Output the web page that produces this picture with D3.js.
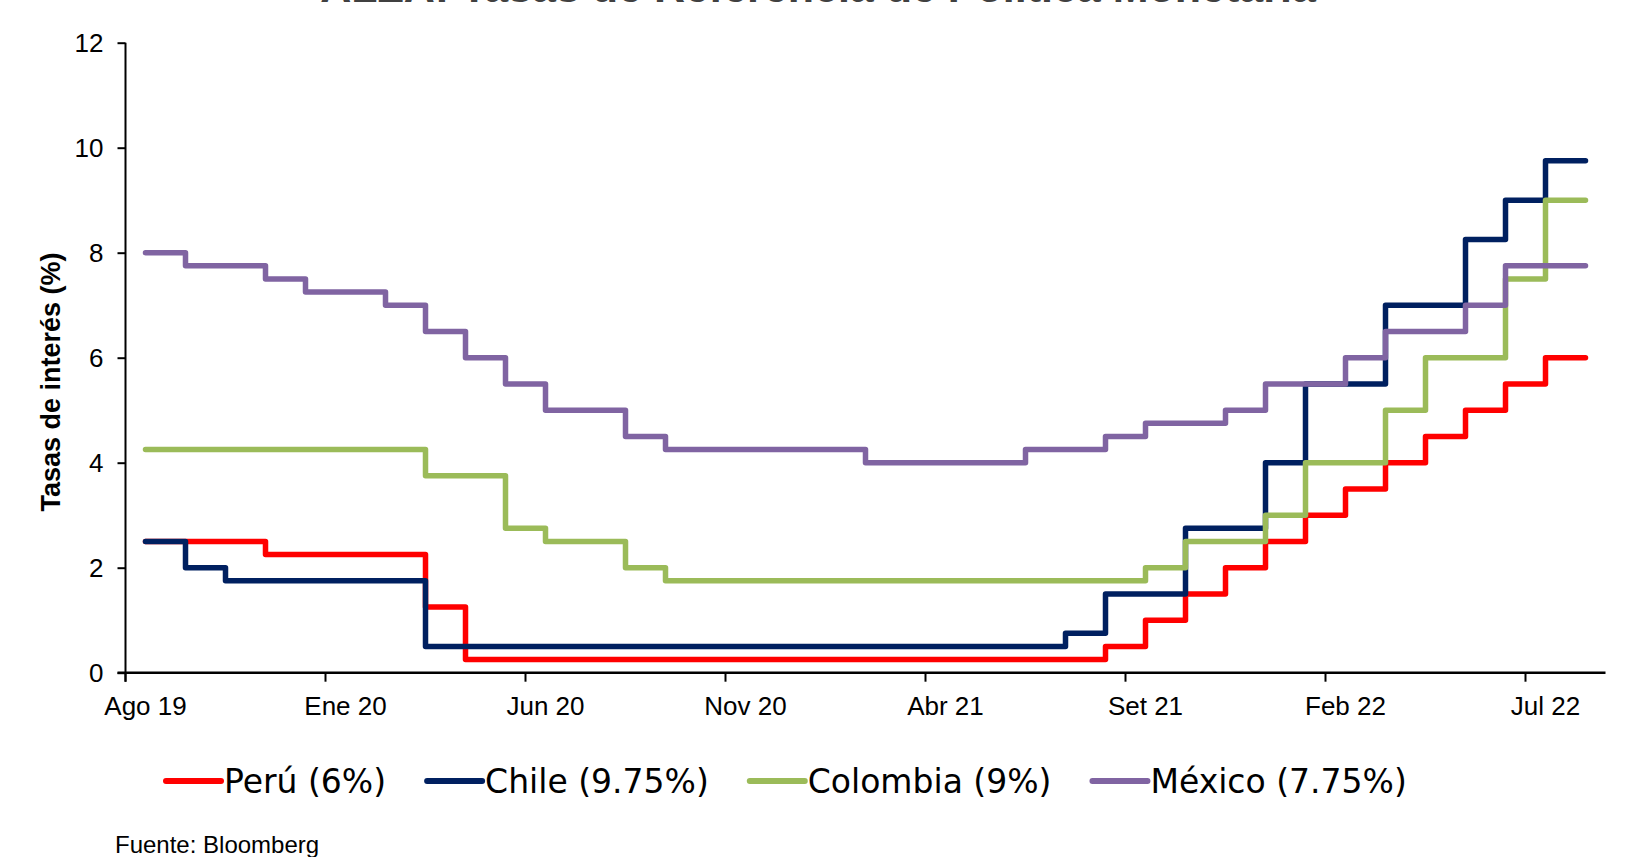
<!DOCTYPE html>
<html>
<head>
<meta charset="utf-8">
<script src="https://cdn.jsdelivr.net/npm/d3@7"></script>
<style>
  body { margin: 0; background: #fff; }
  svg { display: block; }
</style>
</head>
<body>
<div id="chart"></div>
<script>
// monthly end-of-month rates, Ago 19 .. Ago 22
const months = ["Ago 19", "Set 19", "Oct 19", "Nov 19", "Dic 19", "Ene 20", "Feb 20", "Mar 20", "Abr 20", "May 20",
  "Jun 20", "Jul 20", "Ago 20", "Set 20", "Oct 20", "Nov 20", "Dic 20", "Ene 21", "Feb 21", "Mar 21",
  "Abr 21", "May 21", "Jun 21", "Jul 21", "Ago 21", "Set 21", "Oct 21", "Nov 21", "Dic 21", "Ene 22",
  "Feb 22", "Mar 22", "Abr 22", "May 22", "Jun 22", "Jul 22", "Ago 22"]

const peru = [2.5, 2.5, 2.5, 2.25, 2.25, 2.25, 2.25, 1.25, 0.25, 0.25,
  0.25, 0.25, 0.25, 0.25, 0.25, 0.25, 0.25, 0.25, 0.25, 0.25,
  0.25, 0.25, 0.25, 0.25, 0.5, 1, 1.5, 2, 2.5, 3,
  3.5, 4, 4.5, 5, 5.5, 6, 6]

const chile = [2.5, 2, 1.75, 1.75, 1.75, 1.75, 1.75, 0.5, 0.5, 0.5,
  0.5, 0.5, 0.5, 0.5, 0.5, 0.5, 0.5, 0.5, 0.5, 0.5,
  0.5, 0.5, 0.5, 0.75, 1.5, 1.5, 2.75, 2.75, 4, 5.5,
  5.5, 7, 7, 8.25, 9, 9.75, 9.75]

const colombia = [4.25, 4.25, 4.25, 4.25, 4.25, 4.25, 4.25, 3.75, 3.75, 2.75,
  2.5, 2.5, 2, 1.75, 1.75, 1.75, 1.75, 1.75, 1.75, 1.75,
  1.75, 1.75, 1.75, 1.75, 1.75, 2, 2.5, 2.5, 3, 4,
  4, 5, 6, 6, 7.5, 9, 9]

const mexico = [8, 7.75, 7.75, 7.5, 7.25, 7.25, 7, 6.5, 6, 5.5,
  5, 5, 4.5, 4.25, 4.25, 4.25, 4.25, 4.25, 4, 4,
  4, 4, 4.25, 4.25, 4.5, 4.75, 4.75, 5, 5.5, 5.5,
  6, 6.5, 6.5, 7, 7.75, 7.75, 7.75]

const seriesNames = ["Perú (6%)", "Chile (9.75%)", "Colombia (9%)", "México (7.75%)"]
const seriesColors = ["#ff0000", "#002060", "#9bbb59", "#8064a2"]
const yTicks = [0, 2, 4, 6, 8, 10, 12]

const width = 1626, height = 857
const margin = { left: 125.5, top: 42.7, bottom: 672.7 }
const plotRight = margin.left + months.length * 40

const svg = d3.select("#chart").append("svg")
  .attr("width", width)
  .attr("height", height)
  .style("font-family", "'Liberation Sans', Arial, sans-serif")

const x = d3.scaleBand().domain(d3.range(months.length)).range([margin.left, plotRight])
const y = d3.scaleLinear().domain([0, 12]).range([margin.bottom, margin.top])

// title (mostly cropped off the top, as in the source image)
svg.append("text")
  .attr("x", 818).attr("y", 2)
  .attr("text-anchor", "middle")
  .style("font-weight", "bold")
  .style("font-size", "43px")
  .attr("fill", "#404040")
  .text("ALZA: Tasas de Referencia de Política Monetaria")

// y axis
const yAxis = svg.append("g")
  .attr("transform", `translate(${margin.left},0)`)
  .call(d3.axisLeft(y).tickValues(yTicks).tickSize(8).tickPadding(14))
yAxis.select(".domain").attr("stroke", "#000").attr("stroke-width", 2)
  .attr("d", `M0,${margin.top}V${margin.bottom + 9}`)
yAxis.selectAll(".tick line").attr("stroke", "#000").attr("stroke-width", 2)
yAxis.selectAll(".tick text").style("font-size", "26px").attr("fill", "#000")
  .attr("font-family", "'Liberation Sans', Arial, sans-serif")

// x axis: ticks every 5 months on band edges, labels on band centers
const xg = svg.append("g")
xg.append("line")
  .attr("x1", margin.left - 8).attr("x2", plotRight)
  .attr("y1", margin.bottom).attr("y2", margin.bottom)
  .attr("stroke", "#000").attr("stroke-width", 2.5)
const labelIdx = d3.range(0, months.length, 5)
xg.selectAll(".xt").data(labelIdx).join("line")
  .attr("x1", d => x(d)).attr("x2", d => x(d))
  .attr("y1", margin.bottom).attr("y2", margin.bottom + 9)
  .attr("stroke", "#000").attr("stroke-width", 2)
xg.selectAll(".xl").data(labelIdx).join("text")
  .attr("x", d => x(d) + x.bandwidth() / 2)
  .attr("y", 715)
  .attr("text-anchor", "middle")
  .style("font-size", "26px")
  .text(d => months[d])

// y axis title
svg.append("text")
  .attr("transform", "translate(60,382) rotate(-90)")
  .attr("text-anchor", "middle")
  .style("font-weight", "bold")
  .style("font-size", "27px")
  .text("Tasas de interés (%)")

// lines
const series = [peru, chile, colombia, mexico]
const line = d3.line()
  .x((d, i) => x(i) + x.bandwidth() / 2)
  .y(d => y(d))
  .curve(d3.curveStepAfter)

svg.append("g").selectAll("path")
  .data(series)
  .join("path")
  .attr("d", line)
  .attr("fill", "none")
  .attr("stroke", (d, i) => seriesColors[i])
  .attr("stroke-width", 5.5)
  .attr("stroke-linejoin", "round")
  .attr("stroke-linecap", "round")

// legend
const legend = svg.append("g").style("font-family", "'DejaVu Sans', Verdana, sans-serif")
let lx = 166
seriesNames.forEach((name, i) => {
  legend.append("line")
    .attr("x1", lx).attr("x2", lx + 55)
    .attr("y1", 781).attr("y2", 781)
    .attr("stroke", seriesColors[i]).attr("stroke-width", 6)
    .attr("stroke-linecap", "round")
  const t = legend.append("text")
    .attr("x", lx + 58).attr("y", 793)
    .style("font-size", "33px")
    .text(name)
  lx += 58 + t.node().getComputedTextLength() + 41
})

// source note
svg.append("text")
  .attr("x", 115).attr("y", 853)
  .style("font-size", "24px")
  .text("Fuente: Bloomberg")
</script>
</body>
</html>
